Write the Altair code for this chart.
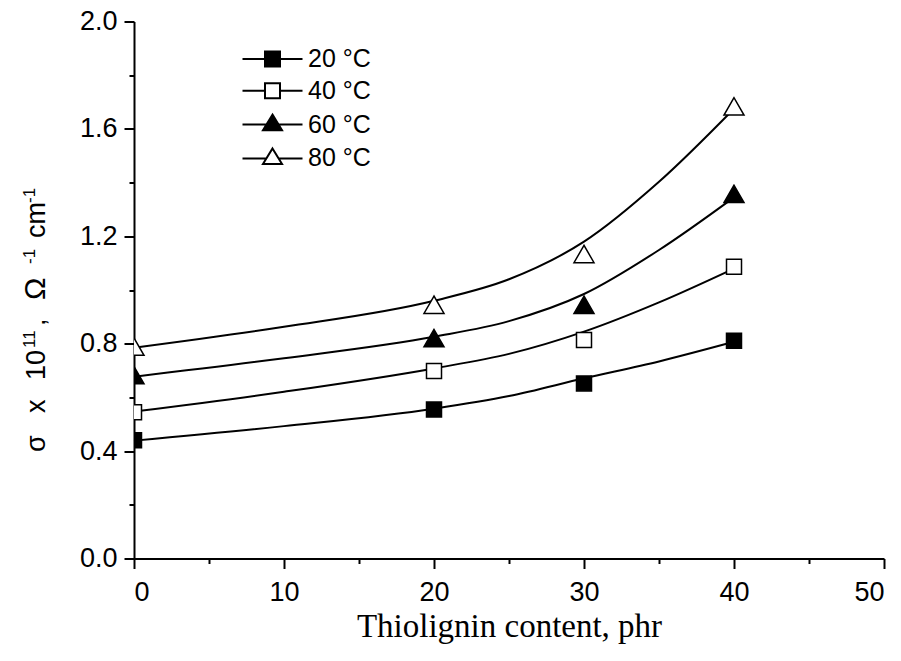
import altair as alt
import pandas as pd

# ---- data ----
series = ["20 °C", "40 °C", "60 °C", "80 °C"]

marker_x = [0, 20, 30, 40]
m20 = [0.440, 0.555, 0.652, 0.811]
m40 = [0.545, 0.698, 0.814, 1.087]
m60 = [0.683, 0.821, 0.945, 1.358]
m80 = [0.789, 0.945, 1.134, 1.684]

curve_x = [0, 10, 20, 25, 30, 35, 40]
c20 = [0.439, 0.493, 0.558, 0.605, 0.671, 0.734, 0.807]
c40 = [0.547, 0.621, 0.708, 0.762, 0.845, 0.954, 1.080]
c60 = [0.677, 0.746, 0.826, 0.884, 0.985, 1.149, 1.345]
c80 = [0.785, 0.863, 0.960, 1.040, 1.180, 1.403, 1.675]

x_ticks = [0, 5, 10, 15, 20, 25, 30, 35, 40, 45, 50]
y_ticks = [0.0, 0.2, 0.4, 0.6, 0.8, 1.0, 1.2, 1.4, 1.6, 1.8, 2.0]

x_title = "Thiolignin content, phr"
# y title pieces: (text, is_superscript)
y_title_parts = [("σ", False), ("x", False), ("10", False), ("11", True), (",", False),
                 ("Ω", False), ("-1", True), ("cm", False), ("-1", True)]

marker_vals = [m20, m40, m60, m80]
curve_vals = [c20, c40, c60, c80]

marker_df = pd.DataFrame(
    [{"series": s, "x": x, "y": y} for s, vals in zip(series, marker_vals) for x, y in zip(marker_x, vals)]
)
curve_df = pd.DataFrame(
    [{"series": s, "x": x, "y": y} for s, vals in zip(series, curve_vals) for x, y in zip(curve_x, vals)]
)

shapes = ["square", "square", "triangle-up", "triangle-up"]
fills = ["black", "white", "black", "white"]
strokes = ["black", "black", "black", "black"]
sizes = [225, 225, 400, 400]

# legend symbols: a line with the marker on it
sq_path = "M-4,0H-1M1,0H4M-1,-1H1V1H-1Z"
tri_path = "M-4,0H-0.81M0.81,0H4M0,-1.33L1.27,0.76L-1.27,0.76Z"
legend_paths = [sq_path, sq_path, tri_path, tri_path]

FONT = "Liberation Sans"
PLOT_LEFT, PLOT_TOP = 134, 21.5

x_scale = alt.Scale(domain=[0, 50], nice=False, zero=False)
y_scale = alt.Scale(domain=[0, 2], nice=False, zero=False)

x_axis = alt.Axis(
    values=x_ticks,
    labelExpr="datum.value % 10 == 0 ? format(datum.value, 'd') : ''",
    tickSize={"condition": {"test": "datum.value % 10 == 0", "value": 10}, "value": 5},
    title=x_title,
    titleFont="Liberation Serif",
    titleFontSize=33,
    titleFontWeight="normal",
    titlePadding=5,
    labelPadding=11,
    grid=False,
)
y_axis = alt.Axis(
    values=y_ticks,
    labelExpr="round(datum.value * 5) % 2 == 0 ? format(datum.value, '.1f') : ''",
    tickSize={"condition": {"test": "round(datum.value * 5) % 2 == 0", "value": 10}, "value": 5},
    title=None,
    labelPadding=7,
    grid=False,
)

lines = alt.Chart(curve_df).mark_line(
    interpolate="monotone", color="black", strokeWidth=2
).encode(
    x=alt.X("x:Q", scale=x_scale, axis=x_axis),
    y=alt.Y("y:Q", scale=y_scale, axis=y_axis),
    detail="series:N",
)

layers = [lines]
for s, shp, f, sz in zip(series, shapes, fills, sizes):
    layers.append(
        alt.Chart(marker_df)
        .transform_filter(alt.datum.series == s)
        .mark_point(
            shape=shp, filled=True, fill=f, stroke="black", strokeWidth=1.5,
            size=sz, opacity=1, clip=True,
        )
        .encode(x="x:Q", y="y:Q")
    )

leg = dict(
    title=None,
    orient="none",
    legendX=126,
    legendY=25,
    symbolSize=225,
    symbolStrokeWidth=2,
    symbolOpacity=1,
    labelFont=FONT,
    labelFontSize=25,
    labelColor="black",
    labelOffset=23,
    rowPadding=5.8,
    padding=0,
)
legend_layer = (
    alt.Chart(marker_df)
    .transform_filter("false")
    .mark_point(filled=True, strokeWidth=2, opacity=1)
    .encode(
        x="x:Q",
        y="y:Q",
        shape=alt.Shape("series:N", scale=alt.Scale(domain=series, range=legend_paths), legend=alt.Legend(**leg)),
        fill=alt.Fill("series:N", scale=alt.Scale(domain=series, range=fills), legend=alt.Legend(**leg)),
        stroke=alt.Stroke("series:N", scale=alt.Scale(domain=series, range=strokes), legend=alt.Legend(**leg)),
    )
)
layers.append(legend_layer)

# rotated y-axis title with real superscripts, built piece by piece (page y of each piece's start)
piece_start = [452, 413, 380, 348, 326, 300, 264, 238, 203]
one_row = pd.DataFrame({"k": [0]})
for (txt, sup), ystart in zip(y_title_parts, piece_start):
    fs = 17 if sup else (30 if txt == "Ω" else 27)
    base_x = 35 if sup else 45
    layers.append(
        alt.Chart(one_row)
        .mark_text(angle=270, align="left", baseline="alphabetic", font=FONT, fontSize=fs, color="black")
        .encode(
            x=alt.value(base_x - PLOT_LEFT),
            y=alt.value(ystart - PLOT_TOP),
            text=alt.value(txt),
        )
    )

chart = (
    alt.layer(*layers)
    .properties(
        width=750,
        height=537,
        autosize=alt.AutoSizeParams(type="none"),
        padding={"left": 126, "top": 13.5, "right": 8, "bottom": 90},
        background="white",
    )
    .configure_view(stroke=None)
    .configure_axis(
        domainColor="black",
        domainWidth=2,
        tickColor="black",
        tickWidth=2,
        labelColor="black",
        labelFont=FONT,
        labelFontSize=27,
        titleColor="black",
    )
)

chart.save("out.html", embed_options={"renderer": "svg", "actions": False})
